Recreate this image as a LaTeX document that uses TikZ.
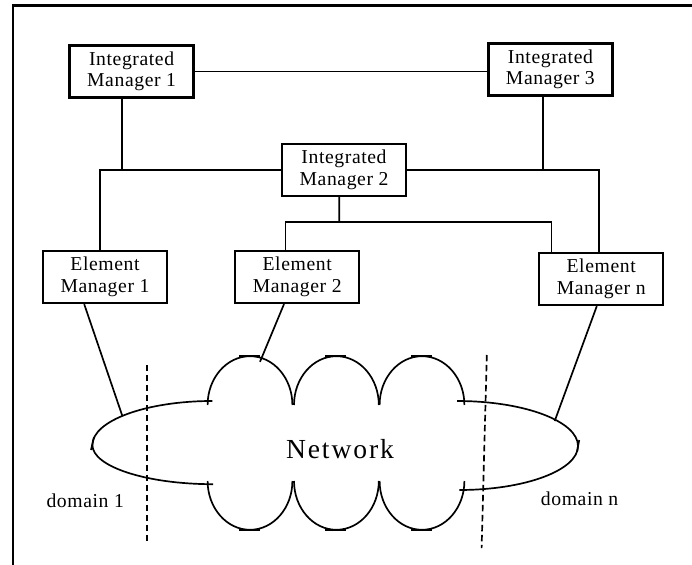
\documentclass[tikz,border=0pt]{standalone}
\usepackage{fontspec}
\setmainfont{Liberation Serif}
\newfontfamily\boxfont[LetterSpace=3]{Liberation Serif}
\newfontfamily\netfont[LetterSpace=7]{Liberation Serif}
\usetikzlibrary{positioning}

\begin{document}
\begin{tikzpicture}[
  mgr/.style={draw,line width=1.6pt,minimum width=3.1cm,minimum height=1.3cm,
    inner sep=0pt,align=center,font=\boxfont\fontsize{14}{15.4}\selectfont},
  wire/.style={line width=1.2pt},
  lbl/.style={font=\boxfont\fontsize{14}{15.4}\selectfont,anchor=base},
  border/.style={dashed,line width=1.2pt,dash pattern=on 0.16cm off 0.09cm}
]
\useasboundingbox (0,0) rectangle (17.3,14.125);
% frame
\draw[line width=1.6pt] (17.3,13.99) -- (0.32,13.99) -- (0.32,0);

% managers
\node[mgr] (IM1) at (3.29,12.34) {Integrated\\Manager 1};
\node[mgr] (IM3) at (13.76,12.39) {Integrated\\Manager 3};
\node[mgr] (IM2) at (8.6,9.88) {Integrated\\Manager 2};
\node[mgr] (EM1) at (2.625,7.2) {Element\\Manager 1};
\node[mgr] (EM2) at (7.43,7.2) {Element\\Manager 2};
\node[mgr] (EMn) at (15.03,7.15) {Element\\Manager n};

% links between managers
\draw[wire] (IM1.east) -- (IM1.east -| IM3.west);
\draw[wire] ([xshift=-0.24cm]IM1.south) -- ([xshift=-0.24cm]IM1.south |- IM2.west);
\draw[wire] ([xshift=-0.185cm]IM3.south) -- ([xshift=-0.185cm]IM3.south |- IM2.east);
\draw[wire] (IM2.west) -| ([xshift=-0.125cm]EM1.north);
\draw[wire] (IM2.east) -| ([xshift=-0.05cm]EMn.north);
\coordinate (bus) at (8.48,8.575);
\draw[wire] ([xshift=-0.12cm]IM2.south) -- (bus);
\draw[wire] ([xshift=-0.29cm]EM2.north) |- (bus) -| ([xshift=-1.24cm]EMn.north);

% network cloud
\scope[wire]
% left hand
\draw (5.31,4.1) arc[start angle=90,end angle=180,x radius=3.0,y radius=1.1]
      arc[start angle=180,end angle=270,x radius=3.02,y radius=0.98];
\draw (2.275,2.875) -- (2.35,3.2);
% right hand
\draw (11.425,4.1) arc[start angle=90,end angle=0,x radius=3.025,y radius=1.125]
      arc[start angle=0,end angle=-90,x radius=2.9675,y radius=1.1];
\draw (14.425,2.83) -- (14.48,3.125);
% middle
\foreach \cx in {6.25,8.41,10.55} {
  \draw ({\cx-1.06},4.0) arc[start angle=180,end angle=0,x radius=1.06,y radius=1.22];
  \draw ({\cx-0.28},5.22) -- ({\cx+0.25},5.22);
  \draw ({\cx-1.06},2.1) arc[start angle=180,end angle=360,x radius=1.06,y radius=1.22];
  \draw ({\cx-0.28},0.88) -- ({\cx+0.25},0.88);
}
\endscope
\coordinate (c1) at (3.0575,3.73);
\coordinate (c2) at (6.5,5.08);
\coordinate (cn) at (13.8675,3.6);
\draw[wire] ([xshift=-0.52cm]EM1.south) -- (c1);
\draw[wire] ([xshift=-0.33cm]EM2.south) -- (c2);
\draw[wire] ([xshift=-0.11cm]EMn.south) -- (cn);

% domain borders
\draw[border] (3.675,5.0) -- (3.675,0.58);
\draw[border] (12.17,5.25) -- (12.04,0.42);

\node[font=\netfont\fontsize{19.6}{22}\selectfont,anchor=base] (net) at (8.5,2.67) {Network};
\node[lbl] (dom1) at (2.13,1.425) {domain 1};
\node[lbl] (domn) at (14.49,1.48) {domain n};
\end{tikzpicture}
\end{document}
